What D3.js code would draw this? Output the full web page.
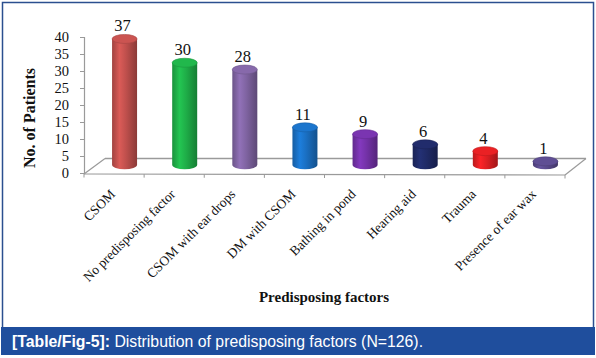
<!DOCTYPE html>
<html><head><meta charset="utf-8">
<script src="https://cdn.jsdelivr.net/npm/d3@7"></script>
<style>body{margin:0;background:#fff}svg{display:block}</style>
</head><body>
<script>
const categories = ["CSOM","No predisposing factor","CSOM with ear drops","DM with CSOM","Bathing in pond","Hearing aid","Trauma","Presence of ear wax"];
const values = [37,30,28,11,9,6,4,1];
const colors = ["#c0504d","#1fae48","#8064a2","#1a6fc2","#7432a8","#1f2a66","#de1f22","#5a4a8c"];
const yTicks = [0,5,10,15,20,25,30,35,40];

const W=596,H=358;
const serif="Liberation Serif, Times New Roman, serif";
const svg=d3.select("body").append("svg").attr("width",W).attr("height",H);
svg.append("rect").attr("width",W).attr("height",H).attr("fill","#fff");
// frame
svg.append("rect").attr("x",2.5).attr("y",2.5).attr("width",591).attr("height",340).attr("fill","#fff").attr("stroke","#2b4f8f").attr("stroke-width",1.5);
// caption
svg.append("rect").attr("x",1).attr("y",327).attr("width",594).attr("height",28).attr("fill","#1f4e9d");
const cap=svg.append("text").attr("x",12).attr("y",347).attr("fill","#fff").attr("font-family","Liberation Sans, Arial, sans-serif").attr("font-size",15.8);
cap.append("tspan").attr("font-weight","bold").text("[Table/Fig-5]:");
cap.append("tspan").text(" Distribution of predisposing factors (N=126).");

const x0=84,x1=565,yFront=174,dX=21,dY=15.5;
const x=d3.scaleBand().domain(categories).range([x0,x1]).padding(0);
const y=d3.scaleLinear().domain([0,40]).range([173,37]);

const defs=svg.append("defs");
colors.forEach((c,i)=>{
  const g=defs.append("linearGradient").attr("id","g"+i).attr("x1","0").attr("x2","1").attr("y1","0").attr("y2","0");
  const base=d3.color(c);
  g.append("stop").attr("offset","0").attr("stop-color",base.darker(0.5));
  g.append("stop").attr("offset","0.3").attr("stop-color",base.brighter(0.35));
  g.append("stop").attr("offset","0.55").attr("stop-color",base);
  g.append("stop").attr("offset","1").attr("stop-color",base.darker(0.9));
});

const gray="#9a9a9a";
// floor
svg.append("line").attr("x1",x0+dX).attr("x2",x1+dX).attr("y1",yFront-dY).attr("y2",yFront-dY).attr("stroke",gray).attr("stroke-width",1.6);
svg.append("line").attr("x1",x0).attr("x2",x0+dX).attr("y1",yFront).attr("y2",yFront-dY).attr("stroke",gray).attr("stroke-width",1.2);
svg.append("line").attr("x1",x1).attr("x2",x1+dX).attr("y1",yFront+1).attr("y2",yFront-dY).attr("stroke",gray).attr("stroke-width",1.2);
svg.append("line").attr("x1",x0).attr("x2",x1).attr("y1",yFront).attr("y2",yFront+1).attr("stroke",gray).attr("stroke-width",1.2);
// category ticks
svg.append("g").selectAll("line").data(categories.concat(["end"])).join("line")
  .attr("x1",(d,i)=>i<categories.length?x(d):x1).attr("x2",(d,i)=>i<categories.length?x(d):x1)
  .attr("y1",(d,i)=>yFront+i/8).attr("y2",(d,i)=>yFront+i/8+3.5).attr("stroke",gray);

// y axis
const ya=svg.append("g").attr("transform",`translate(${x0},0)`).call(d3.axisLeft(y).tickValues(yTicks).tickSize(4).tickPadding(11));
ya.select(".domain").attr("stroke",gray).attr("stroke-width",1.2);
ya.selectAll(".tick line").attr("stroke",gray);
ya.selectAll("text").attr("font-family",serif).attr("font-size",14.5).attr("fill","#111");

// bars (cylinders)
const bw=25, ry=4.5, mid=dY/2+0.5;
const cx=d=>x(d)+x.bandwidth()/2+10.5;
const g=svg.append("g");
categories.forEach((c,i)=>{
  const cxx=cx(c), yb=y(0)-mid, yt=y(values[i])-mid;
  const p=`M${cxx-bw/2},${yt} L${cxx-bw/2},${yb} A${bw/2},${ry} 0 0 0 ${cxx+bw/2},${yb} L${cxx+bw/2},${yt} Z`;
  g.append("path").attr("d",p).attr("fill",`url(#g${i})`);
  g.append("ellipse").attr("cx",cxx).attr("cy",yt).attr("rx",bw/2).attr("ry",ry).attr("fill",d3.color(colors[i]).brighter(0.15)).attr("stroke",d3.color(colors[i]).darker(0.4)).attr("stroke-width",0.6);
  g.append("text").attr("x",cxx-2).attr("y",yt-ry-3).attr("text-anchor","middle")
    .attr("font-family",serif).attr("font-size",16.5).attr("fill","#111").text(values[i]);
});

// category labels
svg.append("g").selectAll("text").data(categories).join("text")
  .attr("transform",d=>`translate(${x(d)+x.bandwidth()/2+2},${195}) rotate(-45)`)
  .attr("text-anchor","end").attr("font-family",serif).attr("font-size",13.5).attr("fill","#111").text(d=>d);

// titles
svg.append("text").attr("x",324).attr("y",302).attr("text-anchor","middle").attr("font-family",serif).attr("font-weight","bold").attr("font-size",15).attr("fill","#111").text("Predisposing factors");
svg.append("text").attr("transform","translate(35,118) rotate(-90)").attr("text-anchor","middle").attr("font-family",serif).attr("font-weight","bold").attr("font-size",16).attr("fill","#111").text("No. of Patients");
</script>
</body></html>
